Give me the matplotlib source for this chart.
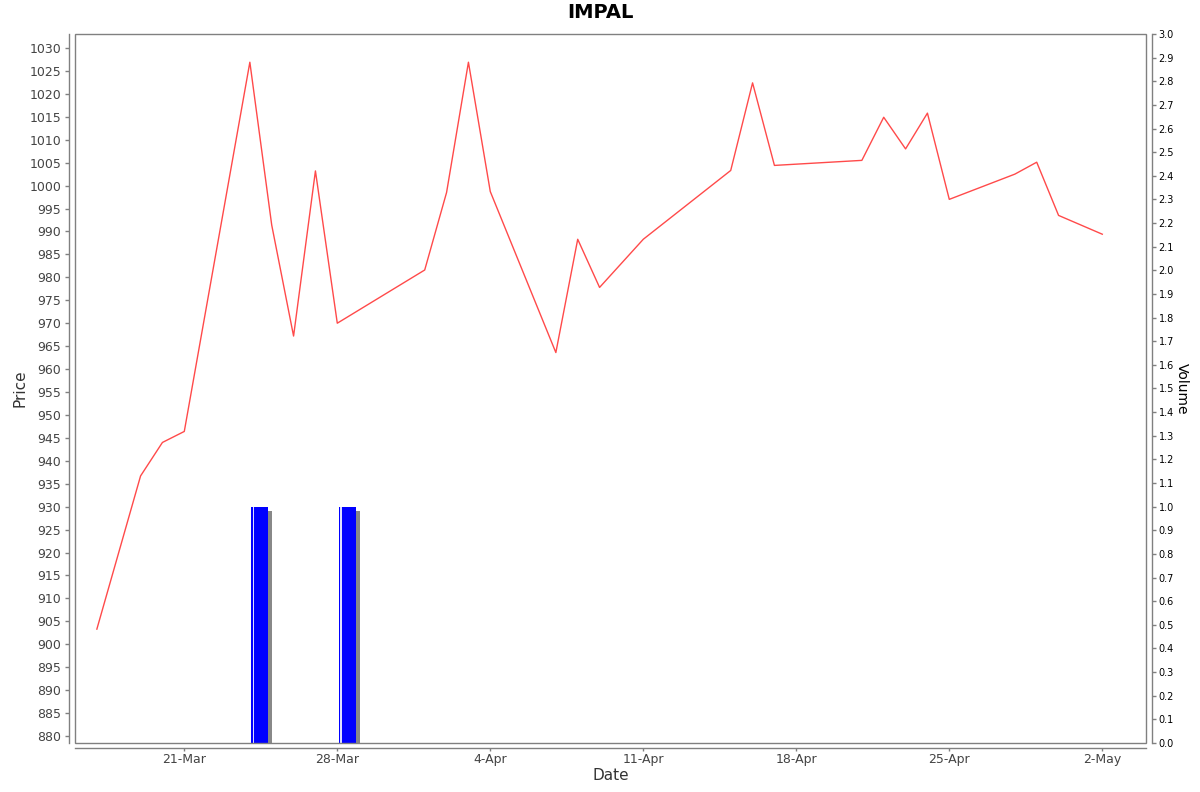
import matplotlib
matplotlib.use("Agg")
import matplotlib.pyplot as plt
import matplotlib.dates as mdates
from matplotlib.patches import Rectangle
from matplotlib.ticker import MultipleLocator, FuncFormatter
import numpy as np
import datetime as dt

# ---- data ----
dates = ["2025-03-17", "2025-03-18", "2025-03-19", "2025-03-20", "2025-03-21",
         "2025-03-24", "2025-03-25", "2025-03-26", "2025-03-27", "2025-03-28",
         "2025-04-01", "2025-04-02", "2025-04-03", "2025-04-04", "2025-04-07",
         "2025-04-08", "2025-04-09", "2025-04-11", "2025-04-15", "2025-04-16",
         "2025-04-17", "2025-04-21", "2025-04-22", "2025-04-23", "2025-04-24",
         "2025-04-25", "2025-04-28", "2025-04-29", "2025-04-30", "2025-05-02"]
prices = [903.3, 920.0, 936.7, 944.0, 946.4,
          1026.9, 991.4, 967.2, 1003.2, 970.0,
          981.6, 998.5, 1026.9, 998.7, 963.6,
          988.3, 977.8, 988.3, 1003.3, 1022.4,
          1004.4, 1005.5, 1014.9, 1008.0, 1015.8,
          997.0, 1002.5, 1005.1, 993.5, 989.4]
vol_dates = ["2025-03-24", "2025-03-28"]
volumes = [1.0, 1.0]

title = "IMPAL"

# ---- figure ----
W, H = 1200, 792
fig = plt.figure(figsize=(W / 100, H / 100), dpi=100)
L, R, T, B = 75, 1146, 34, 743
ax = fig.add_axes([L / W, 1 - B / H, (R - L) / W, (B - T) / H])
ax2 = ax.twinx()

x = [mdates.date2num(dt.date.fromisoformat(d)) for d in dates]
xv = np.array([mdates.date2num(dt.date.fromisoformat(d)) for d in vol_dates])

ax.plot(x, prices, color="#ff4a4a", lw=1.0, zorder=3)
ax.set_zorder(ax2.get_zorder() + 1)
ax.patch.set_visible(False)

# volume bars with shadow
px_day = (R - L) / 48.0
px_vol = (B - T) / 3.0
sh_x = 4 / px_day
sh_y = 4 / px_vol
w = 0.78
ax2.bar(xv + 0.07 + sh_x, np.array(volumes) - sh_y, width=w, align="edge",
        color="#888888", lw=0)
ax2.bar(xv + 0.07, volumes, width=w, align="edge", color="#0000ff", lw=0)
ax2.bar(xv + 0.07 + 1.2 / px_day, volumes, width=1.6 / px_day, align="edge",
        color="#ddddff", lw=0)

xmin = mdates.date2num(dt.date(2025, 3, 16))
xmax = mdates.date2num(dt.date(2025, 5, 4))
ax.set_xlim(xmin, xmax)
ax2.set_xlim(xmin, xmax)
ax.set_ylim(880 - 7 / 4.587, 1030 + 14 / 4.587)
ax2.set_ylim(0, 3.0)

tick_col = "#444444"
ax.yaxis.set_major_locator(MultipleLocator(5))
ax.xaxis.set_major_locator(mdates.WeekdayLocator(byweekday=mdates.FR))
ax.xaxis.set_major_formatter(FuncFormatter(
    lambda v, p: f"{mdates.num2date(v).day}-{mdates.num2date(v).strftime('%b')}"))
ax2.yaxis.set_major_locator(MultipleLocator(0.1))
ax2.yaxis.set_major_formatter(FuncFormatter(lambda v, p: f"{v:.1f}"))

ax.tick_params(axis="y", labelsize=9, colors="#808080", labelcolor=tick_col,
               length=3, width=1, pad=3)
ax.tick_params(axis="x", labelsize=9, colors="#808080", labelcolor=tick_col,
               length=2, width=1, pad=1.5)
ax2.tick_params(axis="y", labelsize=7, colors="#808080", labelcolor="#000000",
                length=3, width=1, pad=2)

for a in (ax, ax2):
    for s in a.spines.values():
        s.set_visible(False)
ax.spines["left"].set_visible(True)
ax.spines["left"].set_position(("outward", 4))
ax.spines["bottom"].set_visible(True)
ax.spines["bottom"].set_position(("outward", 3.5))
ax2.spines["right"].set_visible(True)
ax2.spines["right"].set_position(("outward", 4))
for s in (ax.spines["left"], ax.spines["bottom"], ax2.spines["right"]):
    s.set_color("#808080")
    s.set_linewidth(1)

# plot frame
ax.add_patch(Rectangle((0, 0), 1, 1, transform=ax.transAxes, fill=False,
                       edgecolor="#808080", lw=1, clip_on=False, zorder=5))

ax.set_ylabel("Price", fontsize=11, color="#333333", labelpad=1)
ax.set_xlabel("Date", fontsize=11, color="#333333", labelpad=2)
ax2.set_ylabel("Volume", fontsize=10, color="#000000", rotation=270, labelpad=11)
fig.text(0.5, 1 - 13 / H, title, ha="center", va="center", fontsize=14,
         fontweight="bold")

fig.savefig("out.png", dpi=100)
